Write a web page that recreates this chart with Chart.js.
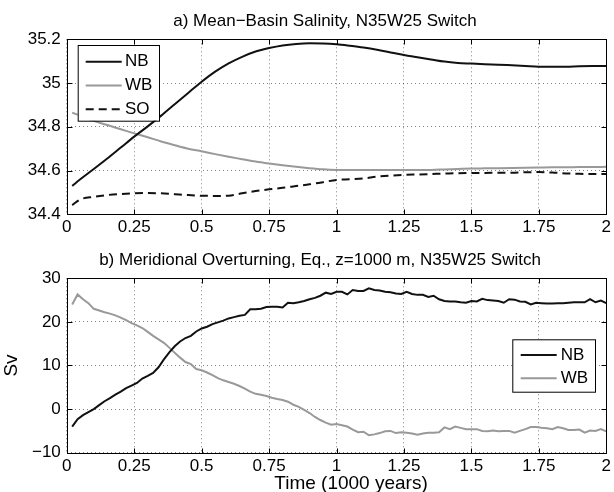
<!DOCTYPE html>
<html>
<head>
<meta charset="utf-8">
<title>N35W25 Switch</title>
<script src="https://cdn.jsdelivr.net/npm/chart.js@4.4.1/dist/chart.umd.min.js"></script>
<style>
  body { margin: 0; background: #fff; }
  canvas { display: block; }
</style>
</head>
<body>
<canvas id="salinity" width="614" height="246"></canvas>
<canvas id="overturning" width="614" height="246"></canvas>
<script>
// a) mean-basin salinity
const salYears = [0.02, 0.05, 0.1, 0.15, 0.2, 0.25, 0.3, 0.35, 0.4, 0.45, 0.5, 0.55, 0.6, 0.65, 0.7, 0.75, 0.8, 0.85, 0.9, 0.95,
  1.0, 1.05, 1.1, 1.15, 1.2, 1.25, 1.3, 1.35, 1.4, 1.45, 1.5, 1.55, 1.6, 1.65, 1.7, 1.75, 1.8, 1.85, 1.9, 1.95, 2.0];
const salNB = [34.53, 34.56, 34.607, 34.655, 34.705, 34.755, 34.802, 34.851, 34.903, 34.955, 35.006, 35.052, 35.09, 35.12, 35.144, 35.16, 35.172, 35.179, 35.182, 35.181,
  35.177, 35.17, 35.162, 35.152, 35.14, 35.128, 35.118, 35.108, 35.098, 35.092, 35.089, 35.086, 35.084, 35.081, 35.078, 35.075, 35.075, 35.075, 35.077, 35.078, 35.078];
const salWB = [34.865, 34.85, 34.827, 34.808, 34.789, 34.77, 34.752, 34.733, 34.716, 34.70, 34.688, 34.675, 34.663, 34.652, 34.641, 34.632, 34.624, 34.617, 34.611, 34.606,
  34.603, 34.602, 34.602, 34.602, 34.602, 34.602, 34.602, 34.603, 34.605, 34.607, 34.609, 34.61, 34.611, 34.612, 34.613, 34.614, 34.615, 34.615, 34.616, 34.616, 34.617];
const salSO = [34.442, 34.468, 34.48, 34.488, 34.493, 34.496, 34.497, 34.496, 34.492, 34.488, 34.485, 34.484, 34.485, 34.496, 34.506, 34.514, 34.521, 34.529, 34.537, 34.547,
  34.557, 34.56, 34.564, 34.572, 34.577, 34.58, 34.582, 34.584, 34.586, 34.588, 34.589, 34.589, 34.59, 34.59, 34.592, 34.593, 34.591, 34.587, 34.585, 34.584, 34.584];
const salTicks = [34.4, 34.6, 34.8, 35, 35.2];

// b) meridional overturning, equator, z=1000 m (Sv)
const motYears = [0.02, 0.04, 0.06, 0.08, 0.10, 0.12, 0.14, 0.16, 0.18, 0.20, 0.22, 0.24, 0.26, 0.28, 0.30, 0.32, 0.34, 0.36, 0.38, 0.40,
  0.42, 0.44, 0.46, 0.48, 0.50, 0.52, 0.54, 0.56, 0.58, 0.60, 0.62, 0.64, 0.66, 0.68, 0.70, 0.72, 0.74, 0.76, 0.78, 0.80,
  0.82, 0.84, 0.86, 0.88, 0.90, 0.92, 0.94, 0.96, 0.98, 1.00, 1.02, 1.04, 1.06, 1.08, 1.10, 1.12, 1.14, 1.16, 1.18, 1.20,
  1.22, 1.24, 1.26, 1.28, 1.30, 1.32, 1.34, 1.36, 1.38, 1.40, 1.42, 1.44, 1.46, 1.48, 1.50, 1.52, 1.54, 1.56, 1.58, 1.60,
  1.62, 1.64, 1.66, 1.68, 1.70, 1.72, 1.74, 1.76, 1.78, 1.80, 1.82, 1.84, 1.86, 1.88, 1.90, 1.92, 1.94, 1.96, 1.98, 2.00];
const motNB = [-4.0, -2.3, -1.4, -0.7, 0.0, 0.9, 1.8, 2.5, 3.3, 4.0, 4.8, 5.4, 6.0, 7.0, 7.6, 8.3, 9.6, 11.4, 13.0, 14.4,
  15.5, 16.3, 16.8, 17.8, 18.5, 18.9, 19.5, 19.9, 20.3, 20.8, 21.1, 21.4, 21.6, 22.9, 22.9, 23.0, 23.4, 23.5, 23.5, 23.3,
  24.4, 24.3, 24.5, 24.8, 25.2, 25.5, 26.0, 26.7, 26.4, 26.9, 26.9, 26.3, 27.3, 27.1, 27.1, 27.7, 27.3, 27.2, 26.9, 26.8,
  26.5, 26.4, 26.9, 26.4, 26.2, 26.2, 25.7, 26.0, 25.2, 24.8, 24.7, 24.7, 24.5, 24.4, 24.8, 24.7, 25.3, 25.0, 24.9, 24.8,
  24.4, 25.2, 25.1, 24.7, 24.6, 24.0, 24.4, 24.3, 24.2, 24.2, 24.3, 24.3, 24.4, 24.5, 24.5, 24.5, 25.2, 24.5, 24.9, 24.3];
const motWB = [24.0, 26.3, 25.2, 24.3, 23.0, 22.6, 22.2, 21.9, 21.5, 21.0, 20.4, 19.7, 19.2, 18.6, 17.7, 16.8, 16.0, 15.2, 14.1, 12.9,
  11.8, 10.8, 10.3, 9.2, 8.9, 8.4, 7.8, 7.1, 6.6, 6.2, 5.8, 5.3, 4.7, 4.0, 3.5, 3.3, 3.0, 2.6, 2.3, 2.1,
  1.7, 1.0, 0.5, -0.2, -0.9, -1.8, -2.5, -3.1, -3.6, -3.4, -3.7, -4.0, -4.7, -5.3, -5.2, -6.0, -5.8, -5.5, -5.1, -5.0,
  -5.5, -5.3, -5.4, -5.6, -5.9, -5.6, -5.4, -5.4, -5.3, -4.2, -4.6, -4.0, -4.3, -4.6, -4.6, -4.6, -5.0, -5.1, -4.9, -5.1,
  -5.0, -5.0, -5.4, -5.0, -4.6, -4.1, -4.1, -4.3, -4.4, -4.6, -4.1, -4.4, -4.8, -4.8, -4.7, -5.4, -4.9, -5.0, -4.6, -5.1];
const svTicks = [-10, 0, 10, 20, 30];
const timeTicks = [0, 0.25, 0.5, 0.75, 1, 1.25, 1.5, 1.75, 2];

const FAMILY = "'Liberation Sans', Arial, Helvetica, sans-serif";
Chart.defaults.font.family = FAMILY;
Chart.defaults.font.size = 17;
Chart.defaults.color = '#000';

const pts = (xs, ys) => xs.map((t, i) => ({ x: t, y: ys[i] }));
const fmt = v => String(+v.toFixed(2)).replace('-', '\u2212');

// box round the axes plus inward tick marks on all four sides
const frameTicks = {
  id: 'frameTicks',
  afterDatasetsDraw(chart) {
    const { ctx, chartArea: a, scales: { x, y } } = chart;
    const L = Math.round(a.left) + 0.5, R = Math.round(a.right) + 0.5;
    const T = Math.round(a.top) + 0.5, B = Math.round(a.bottom) + 0.5;
    ctx.save();
    ctx.strokeStyle = '#000';
    ctx.lineWidth = 1;
    ctx.strokeRect(L, T, R - L, B - T);
    ctx.beginPath();
    x.ticks.forEach(t => {
      const p = Math.round(x.getPixelForValue(t.value)) + 0.5;
      ctx.moveTo(p, B); ctx.lineTo(p, B - 5);
      ctx.moveTo(p, T); ctx.lineTo(p, T + 5);
    });
    y.ticks.forEach(t => {
      const p = Math.round(y.getPixelForValue(t.value)) + 0.5;
      ctx.moveTo(L, p); ctx.lineTo(L + 5, p);
      ctx.moveTo(R, p); ctx.lineTo(R - 5, p);
    });
    ctx.stroke();
    ctx.restore();
  }
};

// matlab style boxed legend inside the axes
const boxLegend = {
  id: 'boxLegend',
  afterDatasetsDraw(chart, args, o) {
    const ctx = chart.ctx;
    ctx.save();
    ctx.fillStyle = '#fff';
    ctx.fillRect(o.x, o.y, o.w, o.h);
    ctx.strokeStyle = '#000';
    ctx.lineWidth = 1;
    ctx.strokeRect(o.x + 0.5, o.y + 0.5, o.w, o.h);
    ctx.font = '17px ' + FAMILY;
    ctx.textBaseline = 'middle';
    chart.data.datasets.forEach((ds, i) => {
      const yy = o.y + o.first + i * o.step;
      ctx.strokeStyle = ds.borderColor;
      ctx.lineWidth = ds.borderWidth;
      ctx.setLineDash(ds.borderDash || []);
      ctx.beginPath();
      ctx.moveTo(o.x + o.line0, yy);
      ctx.lineTo(o.x + o.line1, yy);
      ctx.stroke();
      ctx.setLineDash([]);
      ctx.fillStyle = '#000';
      ctx.fillText(ds.label, o.x + o.text, yy);
    });
    ctx.restore();
  }
};

// panel titles and the time label, placed where matlab put them
const texts = {
  id: 'texts',
  afterDraw(chart, args, o) {
    const ctx = chart.ctx;
    ctx.save();
    ctx.fillStyle = '#000';
    ctx.textAlign = 'center';
    ctx.textBaseline = 'middle';
    o.items.forEach(it => {
      ctx.font = it.size + 'px ' + FAMILY;
      ctx.fillText(it.text, it.x, it.y);
    });
    ctx.restore();
  }
};

const gridOpts = { color: 'rgba(0,0,0,0.5)', lineWidth: 1, drawTicks: false, borderDash: [1, 3] };
const borderOpts = { display: false, dash: [1, 3] };

function xAxis(h) {
  return {
    type: 'linear', min: 0, max: 2,
    afterBuildTicks: s => { s.ticks = timeTicks.map(v => ({ value: v })); },
    afterFit: s => { s.height = h; },
    grid: gridOpts, border: borderOpts,
    ticks: { padding: 3, maxRotation: 0, callback: fmt }
  };
}

function yAxis(min, max, ticks, title) {
  return {
    min: min, max: max,
    afterBuildTicks: s => { s.ticks = ticks.map(v => ({ value: v })); },
    afterFit: s => { s.width = 66.8; },
    grid: gridOpts, border: borderOpts,
    ticks: { padding: 6, callback: fmt },
    title: title ? { display: true, text: title, font: { size: 19, lineHeight: 1 }, padding: { top: 2.5, bottom: 0 } } : { display: false }
  };
}

new Chart(document.getElementById('salinity'), {
  type: 'line',
  data: {
    datasets: [
      { label: 'NB', data: pts(salYears, salNB), borderColor: '#111', borderWidth: 2, cubicInterpolationMode: 'monotone' },
      { label: 'WB', data: pts(salYears, salWB), borderColor: '#999', borderWidth: 2, cubicInterpolationMode: 'monotone' },
      { label: 'SO', data: pts(salYears, salSO), borderColor: '#111', borderWidth: 2, borderDash: [8, 5], cubicInterpolationMode: 'monotone' }
    ]
  },
  options: {
    responsive: false,
    animation: false,
    devicePixelRatio: 1,
    elements: { point: { radius: 0 } },
    layout: { padding: { top: 39.3, right: 7.2, left: 0, bottom: 0 } },
    scales: {
      x: xAxis(31.7),
      y: yAxis(34.4, 35.2, salTicks, null)
    },
    plugins: {
      legend: { display: false },
      tooltip: { enabled: false },
      boxLegend: { x: 77.7, y: 45, w: 81.3, h: 75.7, first: 16.7, step: 23.8, line0: 8, line1: 44, text: 47.3 },
      texts: { items: [{ text: 'a) Mean\u2212Basin Salinity, N35W25 Switch', x: 325, y: 21, size: 17 }] }
    }
  },
  plugins: [frameTicks, boxLegend, texts]
});

new Chart(document.getElementById('overturning'), {
  type: 'line',
  data: {
    datasets: [
      { label: 'NB', data: pts(motYears, motNB), borderColor: '#111', borderWidth: 2, tension: 0 },
      { label: 'WB', data: pts(motYears, motWB), borderColor: '#999', borderWidth: 2, tension: 0 }
    ]
  },
  options: {
    responsive: false,
    animation: false,
    devicePixelRatio: 1,
    elements: { point: { radius: 0 } },
    layout: { padding: { top: 32.3, right: 7.2, left: 0, bottom: 0 } },
    scales: {
      x: xAxis(39.3),
      y: yAxis(-10, 30, svTicks, 'Sv')
    },
    plugins: {
      legend: { display: false },
      tooltip: { enabled: false },
      boxLegend: { x: 512.3, y: 93.3, w: 82.7, h: 52.4, first: 15.7, step: 23.3, line0: 8.4, line1: 44.4, text: 48.4 },
      texts: { items: [
        { text: 'b) Meridional Overturning, Eq., z=1000 m, N35W25 Switch', x: 320, y: 14, size: 17 },
        { text: 'Time (1000 years)', x: 351, y: 238, size: 19 }
      ] }
    }
  },
  plugins: [frameTicks, boxLegend, texts]
});
</script>
</body>
</html>
